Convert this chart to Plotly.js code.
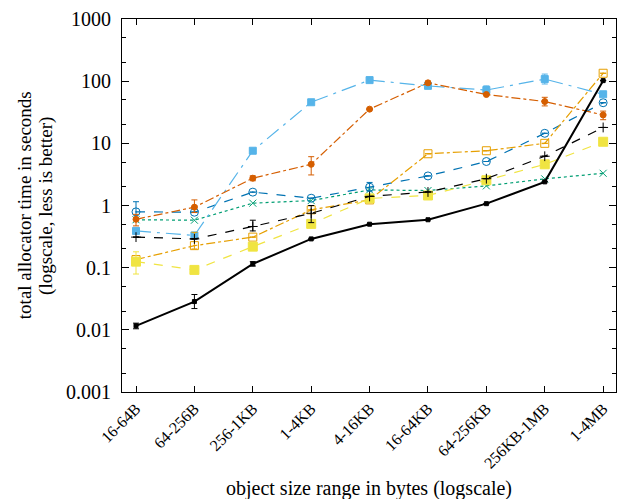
<!DOCTYPE html>
<html>
<head>
<meta charset="utf-8">
<script src="https://cdn.plot.ly/plotly-3.0.1.min.js"></script>
<style>html,body{margin:0;padding:0;background:#fff;}#chart{width:618px;height:499px;}</style>
</head>
<body>
<div id="chart"></div>
<script>
// Categories (object size ranges)
const categories = ['16-64B','64-256B','256-1KB','1-4KB','4-16KB','16-64KB','64-256KB','256KB-1MB','1-4MB'];

// Y tick labels
const yTickVals = [0.001, 0.01, 0.1, 1, 10, 100, 1000];
const yTickText = ['0.001','0.01','0.1','1','10','100','1000'];

// Axis titles
const xTitle = 'object size range in bytes (logscale)';
const yTitleLines = ['total allocator time in seconds', '(logscale, less is better)'];

// Series values (seconds)
const blackSolid   = [0.0116, 0.0285, 0.115, 0.29, 0.50, 0.59, 1.07, 2.4, 102];
const blackSolidHi = [0.0128, 0.037, 0.125, null, null, null, null, null, null];
const blackSolidLo = [0.0104, 0.022, 0.106, null, null, null, null, null, null];

const blackDashed   = [0.31, 0.29, 0.46, 0.75, 1.4, 1.65, 2.7, 6.2, 18];
const blackDashedHi = [null, null, 0.58, 1.0, null, null, null, null, null];
const blackDashedLo = [null, null, 0.39, 0.53, null, null, null, null, null];

const orangeSq   = [0.135, 0.226, 0.31, 0.85, 1.23, 6.8, 7.6, 10, 134];
const orangeSqHi = [null, 0.37, null, null, null, null, null, null, null];
const orangeSqLo = [null, 0.2, null, null, null, null, null, null, null];

const yellowSq   = [0.125, 0.092, 0.218, 0.506, 1.3, 1.45, 2.55, 4.6, 10.6];
const yellowSqHi = [0.18, null, null, null, null, null, null, null, null];
const yellowSqLo = [0.079, null, null, null, null, null, null, null, null];

const greenX = [0.59, 0.58, 1.09, 1.2, 1.78, 1.74, 2.07, 2.68, 3.3];

const blueCirc   = [0.79, 0.78, 1.64, 1.31, 1.97, 2.99, 5.1, 14.5, 45];
const blueCircHi = [1.15, null, null, null, 2.35, null, null, null, null];
const blueCircLo = [0.6, null, null, null, 1.7, null, null, null, null];

const vermCirc   = [0.6, 0.94, 2.75, 4.6, 35.5, 94, 61, 47, 28.6];
const vermCircHi = [0.72, 1.23, 3.0, 6.1, null, 100, null, 55, 33];
const vermCircLo = [0.47, 0.77, 2.5, 3.1, null, 88, null, 40, 24];

const lightBlue   = [0.39, 0.33, 7.6, 45.8, 104, 84, 72, 108, 61.6];
const lightBlueHi = [null, null, null, null, null, null, 84, 130, null];
const lightBlueLo = [null, null, null, null, null, null, 64, 90, null];

function errs(vals, hi, lo, color) {
  if (!hi) return {visible: false};
  return {
    type: 'data', symmetric: false,
    array: vals.map((v, i) => hi[i] == null ? null : hi[i] - v),
    arrayminus: vals.map((v, i) => lo[i] == null ? null : v - lo[i]),
    color: color, thickness: 1, width: 3
  };
}

function series(vals, hi, lo, color, dash, width, symbol, size) {
  return {
    x: categories, y: vals, type: 'scatter', mode: 'lines+markers',
    line: {color: color, dash: dash, width: width},
    marker: {color: color, symbol: symbol, size: size, line: {color: color, width: 1}},
    error_y: errs(vals, hi, lo, color),
    showlegend: false, cliponaxis: false
  };
}

const traces = [
  series(greenX, null, null, '#009E73', 'dot', 1.2, 'x-thin-open', 7),
  series(blueCirc, blueCircHi, blueCircLo, '#0072B2', 'dash', 1.2, 'circle-open-dot', 8),
  series(lightBlue, lightBlueHi, lightBlueLo, '#56B4E9', 'longdashdot', 1.2, 'square-dot', 7),
  series(vermCirc, vermCircHi, vermCircLo, '#D55E00', 'dashdot', 1.2, 'circle', 6),
  series(orangeSq, orangeSqHi, orangeSqLo, '#E69F00', 'dashdot', 1.2, 'square-open-dot', 8),
  series(yellowSq, yellowSqHi, yellowSqLo, '#F0E442', 'dash', 1.2, 'square', 9),
  series(blackDashed, blackDashedHi, blackDashedLo, '#000000', 'dash', 1.2, 'cross-thin-open', 7),
  series(blackSolid, blackSolidHi, blackSolidLo, '#000000', 'solid', 2, 'square', 4)
];

const minorVals = [];
for (let e = -3; e < 3; e++) { minorVals.push(2 * Math.pow(10, e), 5 * Math.pow(10, e)); }

const fam = '"Liberation Serif", "Times New Roman", serif';
const f = (s) => ({family: fam, size: s, color: '#000'});

const layout = {
  width: 618, height: 499,
  margin: {l: 122, r: 2, t: 19, b: 107},
  paper_bgcolor: '#fff', plot_bgcolor: '#fff',
  font: f(17),
  xaxis: {
    type: 'category', range: [-0.24, 8.22],
    showline: true, linecolor: '#000', linewidth: 1, mirror: 'allticks',
    ticks: 'inside', ticklen: 6, tickcolor: '#000',
    tickangle: -45, tickfont: f(16),
    showgrid: false, zeroline: false
  },
  yaxis: {
    type: 'log', range: [-3, 3],
    tickvals: yTickVals, ticktext: yTickText,
    showline: true, linecolor: '#000', linewidth: 1, mirror: 'allticks',
    ticks: 'inside', ticklen: 7, tickcolor: '#000',
    tickfont: f(20),
    ticklabelstandoff: 6,
    minor: {tickvals: minorVals, ticks: 'inside', ticklen: 4, tickcolor: '#000', showgrid: false},
    showgrid: false, zeroline: false
  },
  annotations: [
    {text: xTitle, xref: 'paper', yref: 'paper', x: 0.5, y: -0.26, xanchor: 'center', yanchor: 'middle',
     showarrow: false, font: f(20)},
    {text: yTitleLines[0], xref: 'paper', yref: 'paper', x: -0.197, y: 0.5, xanchor: 'center', yanchor: 'middle',
     textangle: -90, showarrow: false, font: f(19)},
    {text: yTitleLines[1], xref: 'paper', yref: 'paper', x: -0.155, y: 0.5, xanchor: 'center', yanchor: 'middle',
     textangle: -90, showarrow: false, font: f(19)}
  ]
};

Plotly.newPlot('chart', traces, layout, {staticPlot: true});
</script>
</body>
</html>
